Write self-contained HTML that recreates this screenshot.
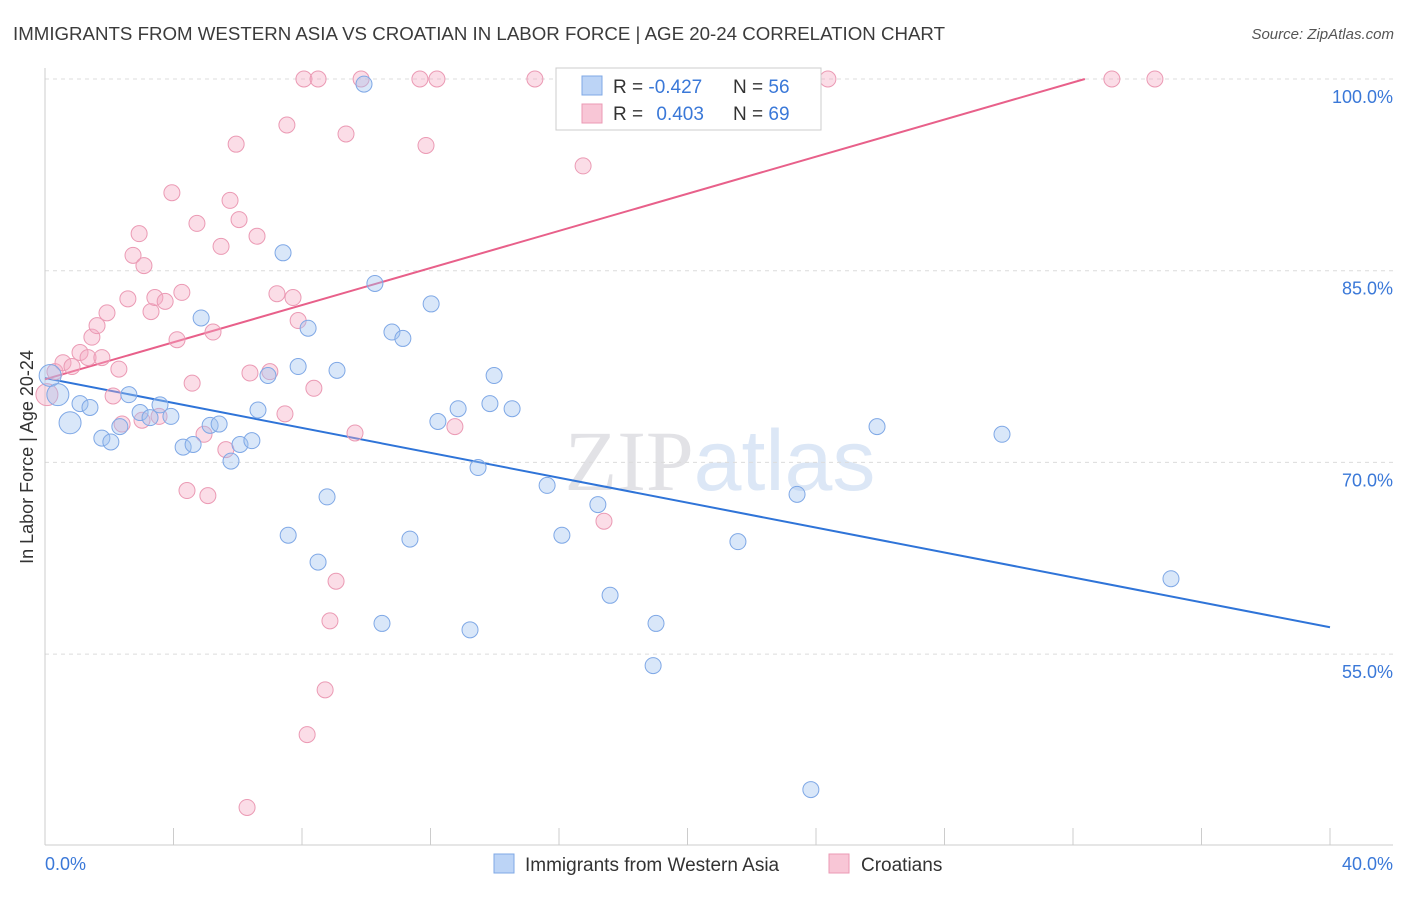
<!DOCTYPE html>
<html><head><meta charset="utf-8"><style>
body{margin:0;background:#fff;font-family:"Liberation Sans",sans-serif;}
svg text{font-family:"Liberation Sans",sans-serif;}
</style></head><body>
<svg id="chart" width="1406" height="892" xmlns="http://www.w3.org/2000/svg">
<text x="13" y="40" font-size="18" fill="#3b3b3b" textLength="932" lengthAdjust="spacingAndGlyphs">IMMIGRANTS FROM WESTERN ASIA VS CROATIAN IN LABOR FORCE | AGE 20-24 CORRELATION CHART</text>
<text x="1394" y="39" font-size="15" fill="#555" text-anchor="end" font-style="italic">Source: ZipAtlas.com</text>
<text x="720" y="490" font-size="86" text-anchor="middle"><tspan font-family="Liberation Serif" fill="#e2e2e6">ZIP</tspan><tspan fill="#dce7f6">atlas</tspan></text>
<g id="grid"></g>
<g id="axes"></g>
<g id="trends"></g>
<g id="pts"></g>
<text transform="translate(33,457) rotate(-90)" font-size="18" fill="#333" text-anchor="middle">In Labor Force | Age 20-24</text>
<g>
<rect x="556" y="68" width="265" height="62" fill="#fff" stroke="#ccc"/>
<rect x="582" y="76" width="20" height="19" fill="#bcd4f6" stroke="#7fa8e6"/>
<rect x="582" y="104" width="20" height="19" fill="#f8c6d6" stroke="#eb9ab4"/>
<text x="613" y="93" font-size="19" fill="#333">R = <tspan fill="#3a78d8">-0.427</tspan></text>
<text x="733" y="93" font-size="19" fill="#333">N = <tspan fill="#3a78d8">56</tspan></text>
<text x="613" y="120" font-size="19" fill="#333">R = <tspan fill="#3a78d8" dx="8">0.403</tspan></text>
<text x="733" y="120" font-size="19" fill="#333">N = <tspan fill="#3a78d8">69</tspan></text>
</g>
<g>
<rect x="494" y="854" width="20" height="19" fill="#bcd4f6" stroke="#7fa8e6"/>
<text x="525" y="871" font-size="19" fill="#333">Immigrants from Western Asia</text>
<rect x="829" y="854" width="20" height="19" fill="#f8c6d6" stroke="#eb9ab4"/>
<text x="861" y="871" font-size="19" fill="#333">Croatians</text>
</g>
</svg>
<script>
const blueX=[0.16,0.40,0.78,1.09,1.40,1.77,2.05,2.33,2.61,2.96,3.27,3.58,3.92,4.30,4.61,4.86,5.14,5.42,5.79,6.07,6.44,6.63,6.94,7.41,7.57,7.88,8.19,8.50,8.78,9.09,9.93,10.27,10.49,10.80,11.14,11.36,12.02,12.23,12.86,13.23,13.48,13.85,13.98,14.54,15.63,16.09,17.21,17.59,18.93,19.02,21.57,23.41,23.84,25.90,29.79,35.05];
const blueY=[76.8,75.3,73.1,74.6,74.3,71.9,71.6,72.8,75.3,73.9,73.5,74.5,73.6,71.2,71.4,81.3,72.9,73.0,70.1,71.4,71.7,74.1,76.8,86.4,64.3,77.5,80.5,62.2,67.3,77.2,99.6,84.0,57.4,80.2,79.7,64.0,82.4,73.2,74.2,56.9,69.6,74.6,76.8,74.2,68.2,64.3,66.7,59.6,54.1,57.4,63.8,67.5,44.4,72.8,72.2,60.9];
const pinkX=[0.06,0.31,0.56,0.84,1.09,1.34,1.46,1.62,1.77,1.93,2.12,2.30,2.40,2.58,2.74,2.93,3.08,3.30,3.42,3.55,3.74,3.95,4.11,4.26,4.58,4.73,4.95,5.07,5.23,5.48,5.63,5.76,5.95,6.04,6.38,6.60,6.29,7.00,7.22,7.53,7.72,7.88,7.47,8.06,8.50,8.37,8.16,8.72,8.87,9.06,9.37,9.65,9.84,11.67,11.86,12.20,12.76,15.25,16.75,17.40,22.54,24.37,33.21,34.55,4.42,3.02];
const pinkY=[75.3,77.1,77.8,77.5,78.6,78.2,79.8,80.7,78.2,81.7,75.2,77.3,73.0,82.8,86.2,87.9,85.4,81.8,82.9,73.6,82.6,91.1,79.6,83.3,76.2,88.7,72.2,67.4,80.2,86.9,71.0,90.5,94.9,89.0,77.0,87.7,43.0,77.1,83.2,96.4,82.9,81.1,73.8,100,100,75.8,48.7,52.2,57.6,60.7,95.7,72.3,100,100,94.8,100,72.8,100,93.2,65.4,100,100,100,100,67.8,73.3];
const blueBig=[0,1,2];
const pinkBig=[0];
const blueTrend=[76.6,57.1];
const pinkTrendStart=76.5, pinkTrendSlope=0.726;
const yTicks=[100,85,70,55];
const xTickLabels=["0.0%","40.0%"];
const NS="http://www.w3.org/2000/svg";
const X=v=>45+v*32.125, Y=v=>79+(100-v)*12.78;
function mk(t,a,p){const e=document.createElementNS(NS,t);for(const k in a)e.setAttribute(k,a[k]);p.appendChild(e);return e;}
const grid=document.getElementById('grid'),axes=document.getElementById('axes');
yTicks.forEach(v=>{
 const l=mk('line',{x1:45,x2:1393,y1:Y(v),y2:Y(v),stroke:'#dcdcdc','stroke-dasharray':'4,4'},grid);
 
 
 const t=mk('text',{x:1393,y:Y(v)+24,'font-size':18,fill:'#3a78d8','text-anchor':'end'},axes);
 t.textContent=v.toFixed(1)+'%';
 
 
});
mk('line',{x1:45,x2:45,y1:68,y2:845,stroke:'#ccc'},axes);
mk('line',{x1:45,x2:1393,y1:845,y2:845,stroke:'#ccc'},axes);
for(let i=0;i<=10;i++){const tk=mk('line',{x1:X(i*4),x2:X(i*4),y1:828,y2:845,stroke:'#ccc'},axes);
 
 }
const t0=mk('text',{x:45,y:870,'font-size':18,fill:'#3a78d8'},axes);t0.textContent=xTickLabels[0];


const t1=mk('text',{x:1393,y:870,'font-size':18,fill:'#3a78d8','text-anchor':'end'},axes);t1.textContent=xTickLabels[1];


const tr=document.getElementById('trends');
const bl=mk('line',{x1:X(0),y1:Y(blueTrend[0]),x2:X(40),y2:Y(blueTrend[1]),stroke:'#2f74d8','stroke-width':2},tr);


const pEnd=Math.min(40,(100-pinkTrendStart)/pinkTrendSlope);
const pl=mk('line',{x1:X(0),y1:Y(pinkTrendStart),x2:X(pEnd),y2:Y(pinkTrendStart+pinkTrendSlope*pEnd),stroke:'#e8608a','stroke-width':2},tr);


const pts=document.getElementById('pts');
pinkX.forEach((x,i)=>{const c=mk('circle',{cx:X(x),cy:Y(pinkY[i]),r:pinkBig.includes(i)?11:8,fill:'rgba(244,170,195,0.4)',stroke:'#eb9ab4','stroke-width':1},pts);
 
 });
blueX.forEach((x,i)=>{const c=mk('circle',{cx:X(x),cy:Y(blueY[i]),r:blueBig.includes(i)?11:8,fill:'rgba(160,195,240,0.4)',stroke:'#7fa8e6','stroke-width':1},pts);
 
 });
</script>
</body></html>
